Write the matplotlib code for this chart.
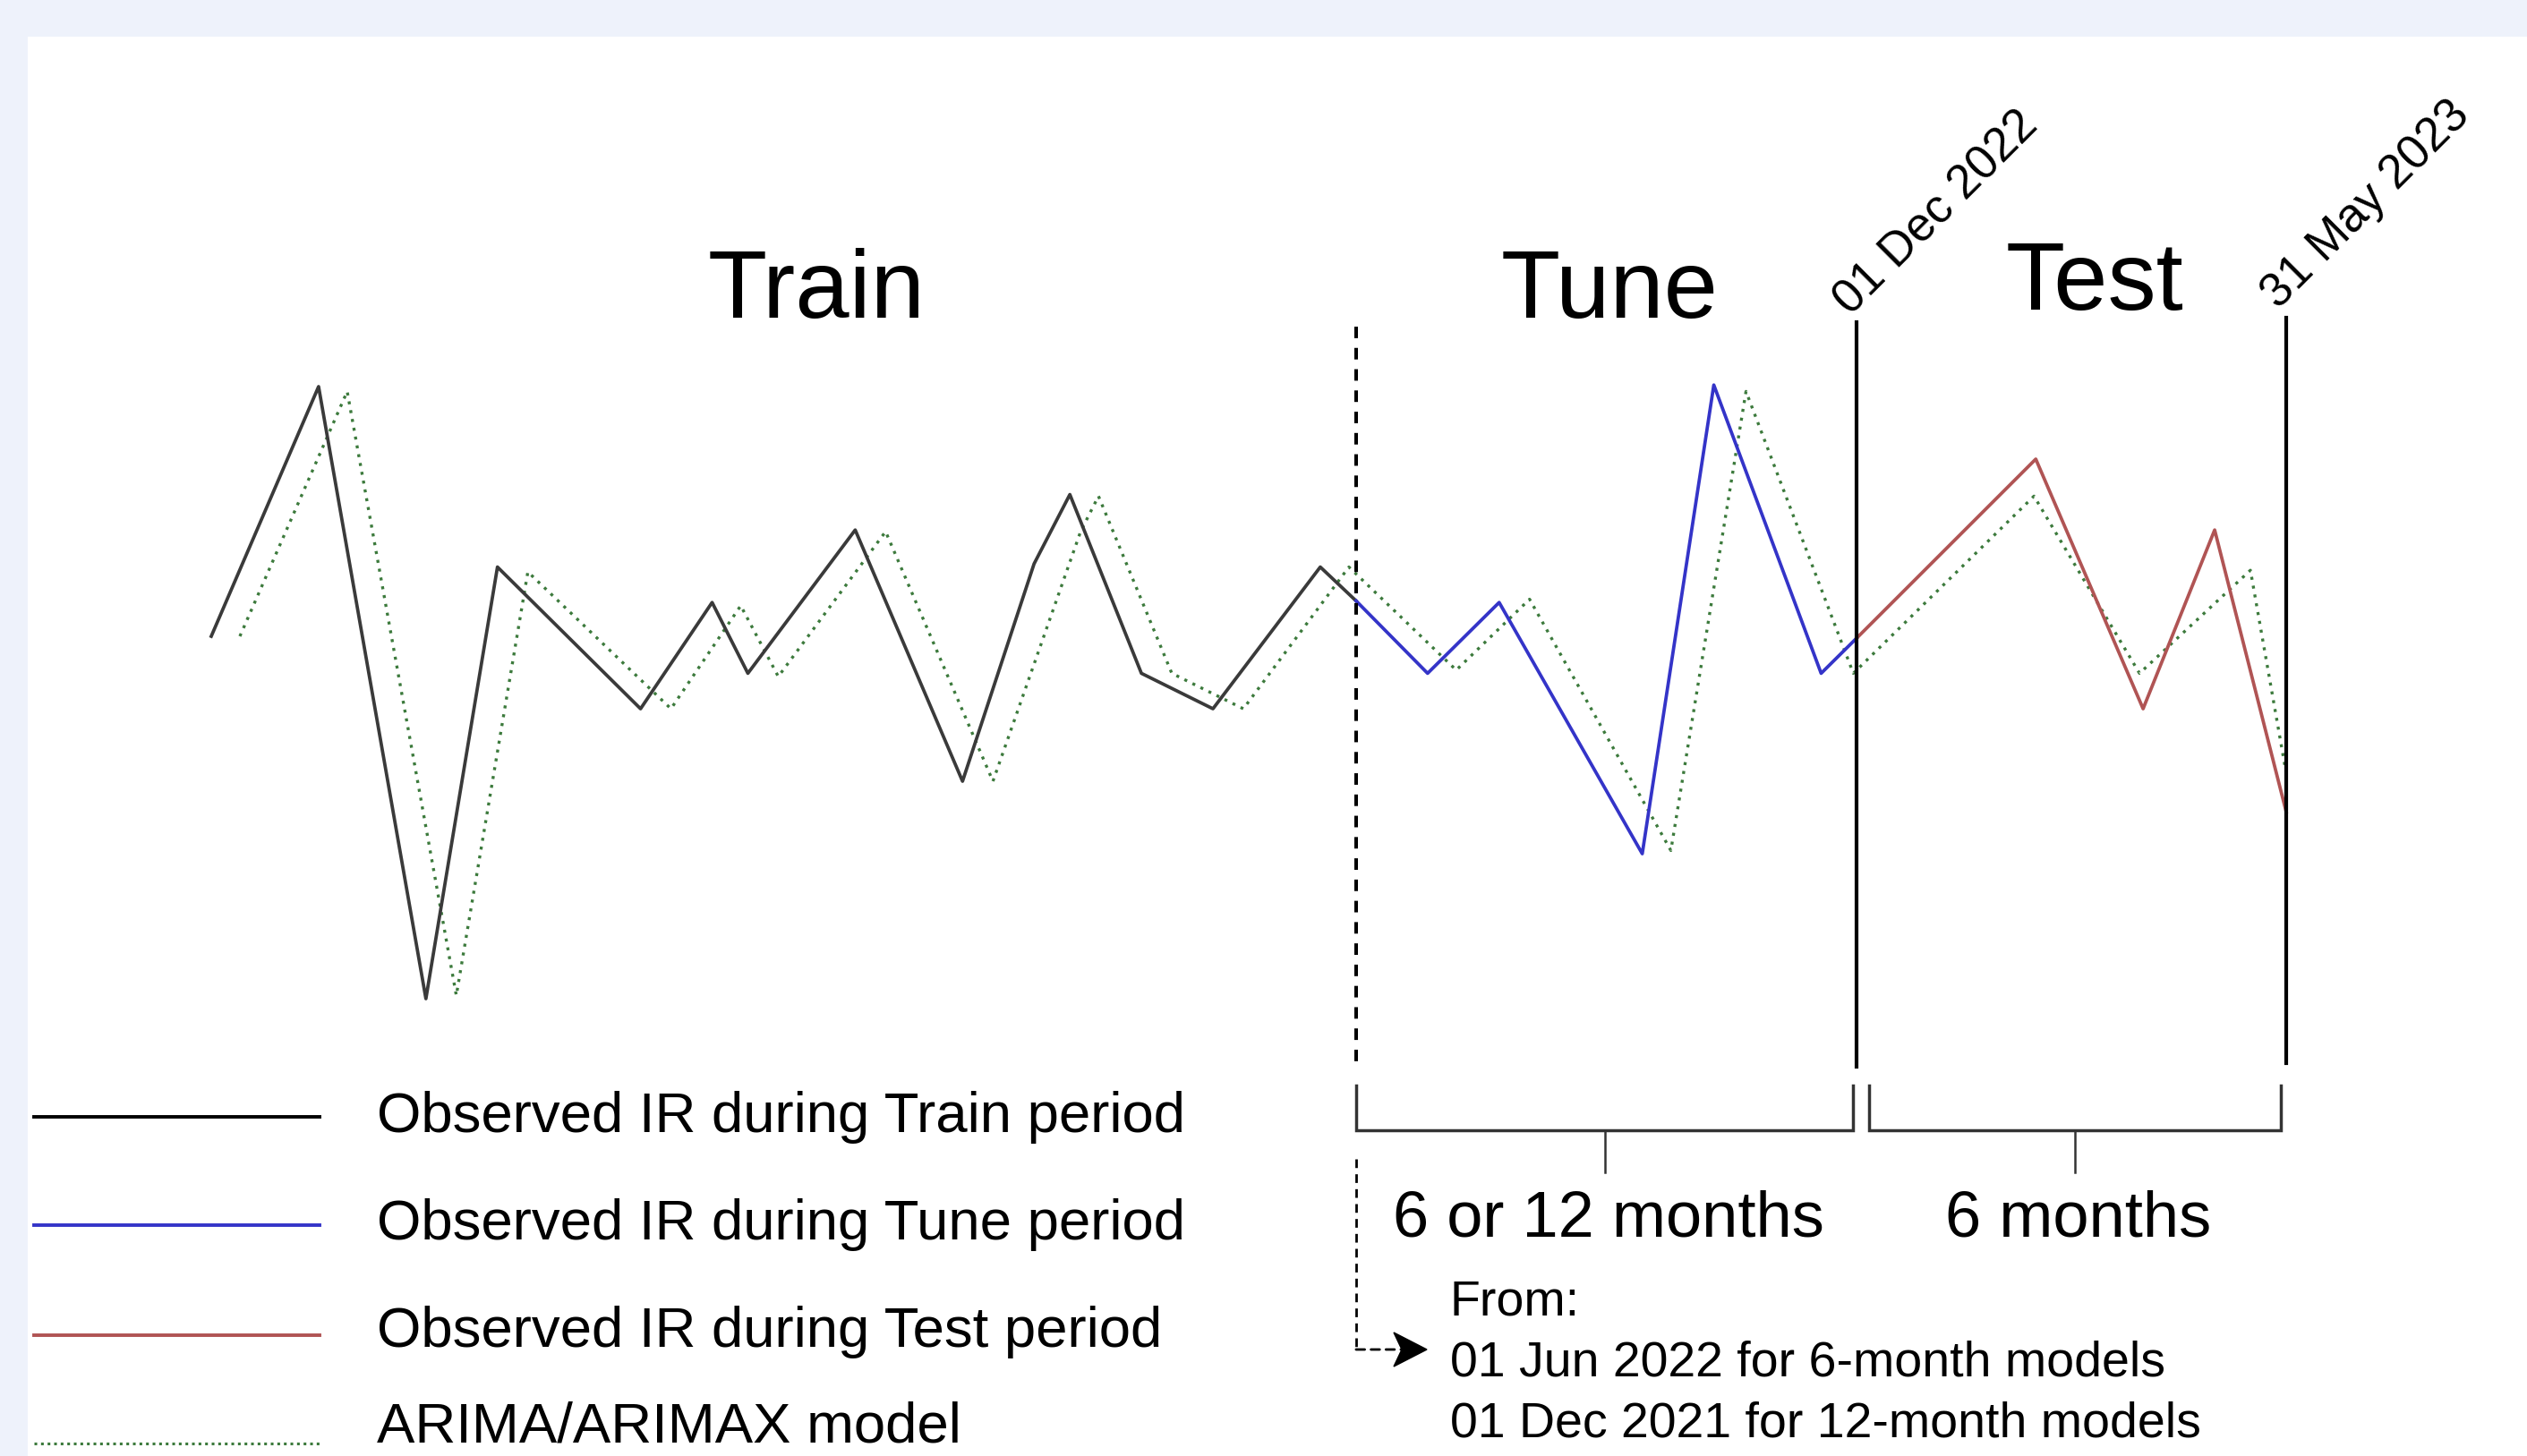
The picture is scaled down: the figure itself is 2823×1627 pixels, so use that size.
import matplotlib
matplotlib.use("Agg")
import matplotlib.pyplot as plt
from matplotlib import transforms as mtransforms
from matplotlib.patches import Rectangle, Polygon

plt.rcParams['font.family'] = ['Liberation Sans', 'DejaVu Sans']

# ---- data -------------------------------------------------------------
# Observed incidence rate (IR) by month index, split into the three periods
train_months = [0, 3, 6, 8, 12, 14, 15, 18, 21, 23, 24, 26, 28, 31, 32]
train_ir = [24.5, 40.0, 2.0, 28.8, 20.0, 26.6, 22.2, 31.1, 15.5, 29.0,
            33.3, 22.2, 20.0, 28.8, 26.7]
tune_months = [32, 34, 36, 40, 42, 45, 46]
tune_ir = [26.7, 22.2, 26.6, 11.0, 40.1, 22.2, 24.4]
test_months = [46, 51, 54, 56, 58]
test_ir = [24.4, 35.5, 20.0, 31.1, 13.6]

# ARIMA/ARIMAX fitted values
model_months = [0.8, 3.8, 6.85, 8.85, 12.85, 14.8, 15.85, 18.85, 21.85, 24.3,
                24.8, 26.85, 28.85, 31.8, 34.8, 36.85, 40.8, 42.9, 45.9,
                50.95, 53.9, 57.0, 58.0]
model_ir = [24.5, 39.7, 2.2, 28.5, 20.0, 26.4, 22.0, 31.0, 15.5, 31.0,
            33.2, 22.2, 20.0, 28.8, 22.4, 26.8, 11.2, 39.7, 22.2,
            33.2, 22.2, 28.6, 16.0]

# Period boundaries (month index) and their labels
tune_start, test_start, test_end = 32, 46, 58
period_names = ["Train", "Tune", "Test"]
boundary_dates = ["01 Dec 2022", "31 May 2023"]
span_labels = ["6 or 12 months", "6 months"]
start_note = ["From:", "01 Jun 2022 for 6-month models",
              "01 Dec 2021 for 12-month models"]
legend_labels = ["Observed IR during Train period",
                 "Observed IR during Tune period",
                 "Observed IR during Test period",
                 "ARIMA/ARIMAX model"]

# ---- styles -----------------------------------------------------------
C_TRAIN = "#3a3a3a"
C_TUNE = "#3434c8"
C_TEST = "#b05454"
C_MODEL = "#3c7a3c"
DOTS = (0, (1, 2.0))
LW_SERIES = 2.7

W, H = 2823, 1627
fig = plt.figure(figsize=(W / 100, H / 100), dpi=100, facecolor="#eef2fb")

# Layout layer in pixel units (y downwards)
bg = fig.add_axes([0, 0, 1, 1])
bg.set_xlim(0, W)
bg.set_ylim(H, 0)
bg.axis("off")
bg.set_zorder(1)
bg.add_patch(Rectangle((31, 41), W - 31, H - 41, facecolor="white",
                       edgecolor="none"))

# Series layer
ax = fig.add_axes([236 / W, 1 - 1152 / H, (2554 - 236) / W, 720 / H])
ax.set_xlim(0, 58)
ax.set_ylim(0, 40)
ax.axis("off")
ax.patch.set_visible(False)
ax.set_zorder(2)

ax.plot(model_months, model_ir, color=C_MODEL, lw=2.4, linestyle=DOTS,
        clip_on=False, zorder=2)
ax.plot(train_months, train_ir, color=C_TRAIN, lw=LW_SERIES, clip_on=False,
        zorder=3)
ax.plot(tune_months, tune_ir, color=C_TUNE, lw=LW_SERIES, clip_on=False,
        zorder=3)
ax.plot(test_months, test_ir, color=C_TEST, lw=LW_SERIES, clip_on=False,
        zorder=3)

# x follows the month index, y follows the pixel layout
trans = mtransforms.blended_transform_factory(ax.transData, bg.transData)

# Period boundaries
ax.plot([tune_start, tune_start], [365, 1188], transform=trans, color="black",
        lw=2.9, linestyle=(0, (3.2, 2.7)), clip_on=False, zorder=4)
ax.plot([test_start, test_start], [360, 1192], transform=trans, color="black",
        lw=3.0, clip_on=False, zorder=4)
ax.plot([test_end, test_end], [355, 1188], transform=trans, color="black",
        lw=3.0, clip_on=False, zorder=4)

# Period titles
bg.text(912, 355, period_names[0], ha="center", va="baseline", fontsize=78)
bg.text(1798, 355, period_names[1], ha="center", va="baseline", fontsize=78)
bg.text(2340, 346, period_names[2], ha="center", va="baseline", fontsize=78)

# Rotated boundary dates
ax.text(test_start, 354, boundary_dates[0],
        transform=mtransforms.offset_copy(trans, fig=fig, x=-7, y=0,
                                          units="dots"),
        rotation=45, rotation_mode="anchor", ha="left", va="baseline",
        fontsize=38, clip_on=False)
ax.text(test_end, 346, boundary_dates[1],
        transform=mtransforms.offset_copy(trans, fig=fig, x=-9, y=0,
                                          units="dots"),
        rotation=45, rotation_mode="anchor", ha="left", va="baseline",
        fontsize=38, clip_on=False)

# Brackets below the periods
brackets = [(tune_start, test_start - 0.1), (test_start + 0.33, test_end - 0.15)]
for (a, b), label in zip(brackets, span_labels):
    ax.plot([a, a, b, b], [1213, 1263, 1263, 1213], transform=trans,
            color="#333333", lw=2.5, clip_on=False, solid_joinstyle="miter")
    mid = (a + b) / 2
    ax.plot([mid, mid], [1263, 1310], transform=trans, color="#333333",
            lw=1.8, clip_on=False)
    ax.text(mid + 0.1, 1382, label, transform=trans, ha="center",
            va="baseline", fontsize=52, clip_on=False)

# Dashed connector to the tune-start note
DASH_THIN = (0, (3.5, 2.5))
ax.plot([tune_start, tune_start], [1295, 1508], transform=trans,
        color="black", lw=2.0, linestyle=DASH_THIN, clip_on=False)
ax.annotate("", xy=(1566, 1508), xycoords=bg.transData,
            xytext=(tune_start, 1508), textcoords=trans,
            arrowprops=dict(arrowstyle="-", color="black", lw=2.0,
                            linestyle=DASH_THIN, shrinkA=0, shrinkB=0),
            annotation_clip=False)
bg.add_patch(Polygon([(1594, 1508), (1557, 1489), (1566, 1508), (1557, 1527)],
                     closed=True, facecolor="black", edgecolor="black",
                     lw=1.0))

for txt, yb in zip(start_note, [1470, 1537, 1605]):
    bg.text(1620, yb, txt, ha="left", va="baseline", fontsize=40)

# Legend
legend_styles = [dict(color="black", lw=2.8),
                 dict(color=C_TUNE, lw=2.8),
                 dict(color=C_TEST, lw=2.8),
                 dict(color=C_MODEL, lw=2.2, linestyle=(0, (1, 1.4)))]
line_y = [1248, 1369, 1492, 1613]
text_y = [1265, 1385, 1505, 1612]
for style, ly, ty, label in zip(legend_styles, line_y, text_y, legend_labels):
    bg.plot([38, 357], [ly, ly], clip_on=False, **style)
    bg.text(421, ty, label, ha="left", va="baseline", fontsize=45.7,
            clip_on=False)

fig.savefig("out.png", dpi=100, facecolor=fig.get_facecolor())
